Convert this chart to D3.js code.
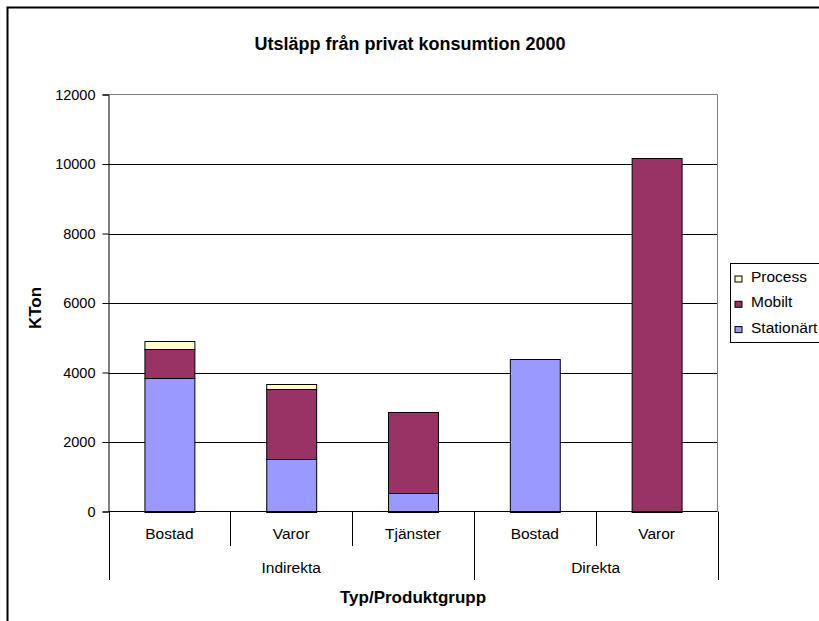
<!DOCTYPE html>
<html>
<head>
<meta charset="utf-8">
<script src="https://cdn.jsdelivr.net/npm/d3@7"></script>
<style>
  body { margin: 0; background: #fff; }
  svg { display: block; font-family: "Liberation Sans", Arial, sans-serif; }
</style>
</head>
<body>
<svg id="chart" width="819" height="621"></svg>
<script>
// ---- data ----
const categories = ["Bostad", "Varor", "Tjänster", "Bostad", "Varor"];
const groups = ["Indirekta", "Indirekta", "Indirekta", "Direkta", "Direkta"];
const seriesNames = ["Stationärt", "Mobilt", "Process"];
const stationart = [3830, 1520, 540, 4380, 0];
const mobilt = [835, 2010, 2325, 0, 10180];
const processV = [250, 145, 0, 0, 0];
const yTicks = [0, 2000, 4000, 6000, 8000, 10000, 12000];
const colors = { "Stationärt": "#9999FF", "Mobilt": "#993366", "Process": "#FFFFCC" };
const legendOrder = ["Process", "Mobilt", "Stationärt"];

const rows = categories.map((c, i) => ({
  id: i, cat: c, group: groups[i],
  "Stationärt": stationart[i], "Mobilt": mobilt[i], "Process": processV[i]
}));

const svg = d3.select("#chart");
const L = 108.5, R = 717.5, T = 94.5, B = 511.5;

// outer border
svg.append("rect").attr("x", 7.5).attr("y", 7.5).attr("width", 830).attr("height", 640)
  .attr("fill", "none").attr("stroke", "#000").attr("stroke-width", 2);

// title
svg.append("text").attr("x", 410).attr("y", 50).attr("text-anchor", "middle")
  .attr("font-size", 18).attr("font-weight", "bold").text("Utsläpp från privat konsumtion 2000");

const x = d3.scaleBand().domain(rows.map(d => d.id)).range([L, R])
  .paddingInner(0.59).paddingOuter(0.295);
const y = d3.scaleLinear().domain([0, 12000]).range([B, T]);
const step = x.step();

// gridlines
svg.append("g").selectAll("line").data(yTicks.filter(t => t > 0 && t < 12000)).join("line")
  .attr("x1", L).attr("x2", R).attr("y1", d => Math.round(y(d)) + 0.5).attr("y2", d => Math.round(y(d)) + 0.5)
  .attr("stroke", "#000").attr("stroke-width", 1);

// plot border (grey top/right)
svg.append("path").attr("d", `M${L},${T}H${R}V${B}`).attr("fill", "none")
  .attr("stroke", "#808080").attr("stroke-width", 1);

// bars
const stack = d3.stack().keys(seriesNames)(rows);
svg.append("g").selectAll("g").data(stack).join("g")
  .attr("fill", d => colors[d.key])
  .selectAll("rect").data(d => d.filter(p => p[1] - p[0] > 0)).join("rect")
  .attr("x", d => x(d.data.id) + 0.5)
  .attr("width", x.bandwidth())
  .attr("y", d => Math.round(y(d[1])) + 0.5)
  .attr("height", d => Math.round(y(d[0])) - Math.round(y(d[1])))
  .attr("stroke", "#000").attr("stroke-width", 1);

// y axis
const yAxis = d3.axisLeft(y).tickValues(yTicks).tickSize(6).tickPadding(7).tickFormat(d3.format("d"));
const gy = svg.append("g").attr("transform", `translate(${L},0)`).call(yAxis);
gy.select(".domain").attr("stroke", "#000");
gy.selectAll(".tick line").attr("stroke", "#000");
gy.selectAll(".tick text").attr("font-size", 14.5).attr("fill", "#000")
  .attr("font-family", "Liberation Sans, Arial, sans-serif");

// x axis baseline
svg.append("line").attr("x1", L).attr("x2", R).attr("y1", B).attr("y2", B).attr("stroke", "#000");

// category separators
const bounds = d3.range(rows.length + 1).map(i => L + i * step);
const groupBoundaryIdx = [0];
rows.forEach((r, i) => { if (i > 0 && r.group !== rows[i - 1].group) groupBoundaryIdx.push(i); });
groupBoundaryIdx.push(rows.length);
svg.append("g").selectAll("line").data(bounds).join("line")
  .attr("x1", d => Math.round(d) + 0.5).attr("x2", d => Math.round(d) + 0.5)
  .attr("y1", B).attr("y2", (d, i) => groupBoundaryIdx.includes(i) ? 580 : 546)
  .attr("stroke", "#000");

// category labels
svg.append("g").selectAll("text").data(rows).join("text")
  .attr("x", d => x(d.id) + x.bandwidth() / 2).attr("y", 539)
  .attr("text-anchor", "middle").attr("font-size", 15.5).text(d => d.cat);

// group labels
const groupSpans = [];
for (let k = 0; k < groupBoundaryIdx.length - 1; k++) {
  const a = groupBoundaryIdx[k], b = groupBoundaryIdx[k + 1];
  groupSpans.push({ name: rows[a].group, x0: bounds[a], x1: bounds[b] });
}
svg.append("g").selectAll("text").data(groupSpans).join("text")
  .attr("x", d => (d.x0 + d.x1) / 2).attr("y", 573)
  .attr("text-anchor", "middle").attr("font-size", 15.5).text(d => d.name);

// axis titles
svg.append("text").attr("x", (L + R) / 2).attr("y", 603).attr("text-anchor", "middle")
  .attr("font-size", 17).attr("font-weight", "bold").text("Typ/Produktgrupp");
svg.append("text").attr("transform", "translate(41,308) rotate(-90)").attr("text-anchor", "middle")
  .attr("font-size", 17).attr("font-weight", "bold").text("KTon");

// legend
const lg = svg.append("g").attr("transform", "translate(730.5,263.5)");
lg.append("rect").attr("width", 110).attr("height", 79).attr("fill", "#fff").attr("stroke", "#000");
const li = lg.selectAll("g").data(legendOrder).join("g")
  .attr("transform", (d, i) => `translate(0,${18.5 + i * 25.3})`);
li.append("rect").attr("x", 4.5).attr("y", -6).attr("width", 7).attr("height", 6)
  .attr("fill", d => colors[d]).attr("stroke", "#000");
li.append("text").attr("x", 20.5).attr("y", 0).attr("font-size", 15.5).text(d => d);
</script>
</body>
</html>
